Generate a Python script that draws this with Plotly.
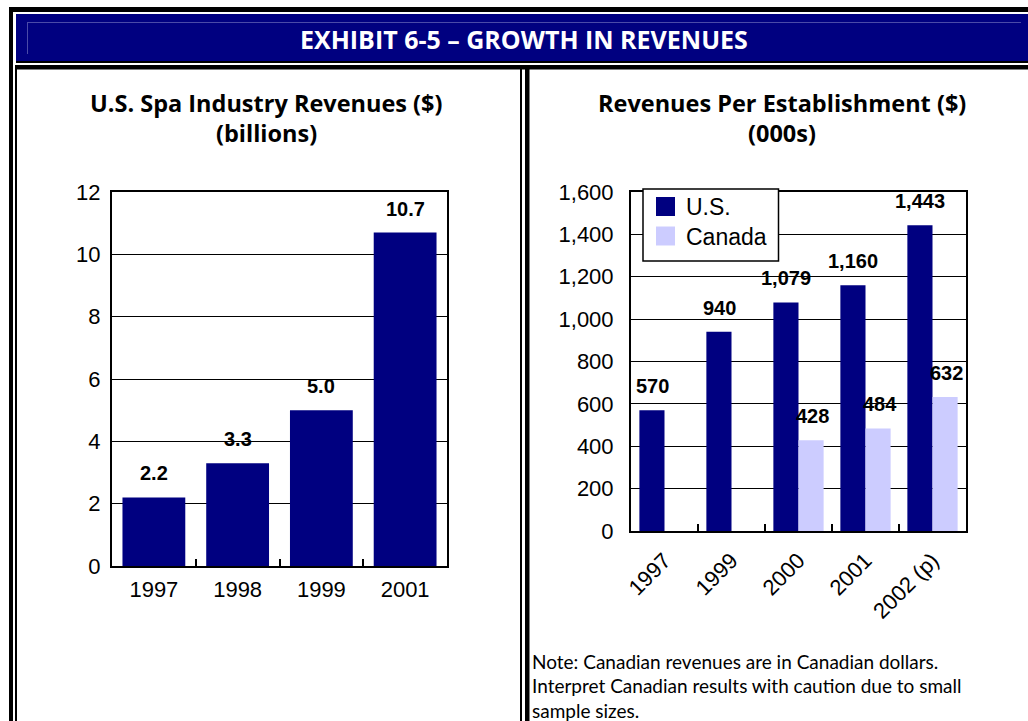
import plotly.graph_objects as go

# ---- data ----
spa_years = ["1997", "1998", "1999", "2001"]
spa_revenues = [2.2, 3.3, 5.0, 10.7]          # US$ billions

est_years = ["1997", "1999", "2000", "2001", "2002 (p)"]
est_us = [570, 940, 1079, 1160, 1443]          # US$ 000s
est_canada = [None, None, 428, 484, 632]       # C$ 000s
series_names = ["U.S.", "Canada"]

header_text = "EXHIBIT 6-5 – GROWTH IN REVENUES"
left_title = ["U.S. Spa Industry Revenues ($)", "(billions)"]
right_title = ["Revenues Per Establishment ($)", "(000s)"]
note_lines = [
    "Note: Canadian revenues are in Canadian dollars.",
    "Interpret Canadian results with caution due to small",
    "sample sizes.",
]

# ---- styling ----
W, H = 1028, 721
NAVY = "#000080"
LAVENDER = "#CCCCFF"
SANS = "Liberation Sans, Arial, sans-serif"
TITLE_FONT = "Open Sans, Noto Sans, sans-serif"
NOTE_FONT = "Lato, Noto Sans, sans-serif"


def px(x):
    return x / W


def py(y):
    return 1 - y / H


fig = go.Figure()

fig.add_trace(go.Bar(x=spa_years, y=spa_revenues, marker=dict(color=NAVY, line=dict(width=0)),
                     xaxis="x", yaxis="y", showlegend=False))
fig.add_trace(go.Bar(x=est_years, y=est_us, name=series_names[0],
                     marker=dict(color=NAVY, line=dict(width=0)),
                     xaxis="x2", yaxis="y2", showlegend=False))
fig.add_trace(go.Bar(x=est_years, y=est_canada, name=series_names[1],
                     marker=dict(color=LAVENDER, line=dict(width=0)),
                     xaxis="x2", yaxis="y2", showlegend=False))

axis_common = dict(showline=True, linecolor="black", linewidth=2, mirror=True,
                   automargin=False,
                   tickfont=dict(family=SANS, size=22, color="black"))

fig.update_layout(
    width=W, height=H,
    margin=dict(l=0, r=0, t=0, b=0, pad=0, autoexpand=False),
    showlegend=False,
    paper_bgcolor="white", plot_bgcolor="white",
    barmode="group", bargap=0.25, bargroupgap=0,
    xaxis=dict(domain=[px(112), px(447)], anchor="y", type="category",
               range=[-0.5, len(spa_years) - 0.5],
               ticks="inside", tickson="boundaries", ticklen=7, tickwidth=1.5,
               tickcolor="black", showgrid=False, tickangle=0,
               ticklabelstandoff=3, **axis_common),
    yaxis=dict(domain=[py(566), py(192)], anchor="x", range=[0, 12], dtick=2,
               showgrid=True, gridcolor="black", gridwidth=1.3, zeroline=False,
               ticks="", ticklabelstandoff=5, **axis_common),
    xaxis2=dict(domain=[px(631), px(966)], anchor="y2", type="category",
                range=[-0.5, len(est_years) - 0.5],
                ticks="inside", tickson="boundaries", ticklen=7, tickwidth=1.5,
                tickcolor="black", showgrid=False, tickangle=-45,
                ticklabelstandoff=6, **axis_common),
    yaxis2=dict(domain=[py(531), py(192)], anchor="x2", range=[0, 1600], dtick=200,
                tickformat=",d", showgrid=True, gridcolor="black", gridwidth=1.3,
                zeroline=False, ticks="", ticklabelstandoff=11, **axis_common),
)

shapes = []


def rect(x0, y0, x1, y1, color, layer="above"):
    shapes.append(dict(type="rect", xref="paper", yref="paper",
                       x0=px(x0), x1=px(x1), y0=py(y1), y1=py(y0),
                       fillcolor=color, line=dict(width=0), layer=layer))


# outer double frame and header bar
rect(9, 7, W, 12, "black")
rect(9, 7, 13, H, "black")
rect(16, 14, W, 61, NAVY)
shapes.append(dict(type="line", xref="paper", yref="paper", x0=px(27), x1=px(1021),
                   y0=py(22.5), y1=py(22.5), line=dict(color="#4a4aa8", width=1)))
shapes.append(dict(type="line", xref="paper", yref="paper", x0=px(27.5), x1=px(27.5),
                   y0=py(22), y1=py(54), line=dict(color="#4a4aa8", width=1)))
rect(16, 61, W, 63, "black")
rect(15, 65, W, 69.5, "black")
rect(15, 65, 17, H, "black")
# double divider between the two panels
rect(520, 65, 522, H, "black")
rect(525, 65, 529.5, H, "black")

# legend box for the right-hand chart
legend_colors = [NAVY, LAVENDER]
shapes.append(dict(type="rect", xref="paper", yref="paper",
                   x0=px(643), x1=px(778.5), y0=py(261), y1=py(189),
                   fillcolor="white", line=dict(color="black", width=1.5), layer="above"))
for i, c in enumerate(legend_colors):
    top = 197 + i * 29.5
    rect(656, top, 675, top + 19, c)

annotations = []

annotations.append(dict(xref="paper", yref="paper", x=px(524), y=py(39),
                        text=header_text, showarrow=False, xanchor="center", yanchor="middle",
                        font=dict(family=TITLE_FONT, size=25, color="white", weight="bold")))

for i, line in enumerate(left_title):
    annotations.append(dict(xref="paper", yref="paper", x=px(266), y=py(103 + 30 * i),
                            text=line, showarrow=False, xanchor="center", yanchor="middle",
                            font=dict(family=TITLE_FONT, size=23.5, color="black", weight="bold")))
for i, line in enumerate(right_title):
    annotations.append(dict(xref="paper", yref="paper", x=px(782), y=py(103 + 30 * i),
                            text=line, showarrow=False, xanchor="center", yanchor="middle",
                            font=dict(family=TITLE_FONT, size=23.5, color="black", weight="bold")))

for i, name in enumerate(series_names):
    annotations.append(dict(xref="paper", yref="paper", x=px(684), y=py(207 + 29.5 * i),
                            text=name, showarrow=False, xanchor="left", yanchor="middle",
                            font=dict(family=SANS, size=23, color="black")))

# note below the right-hand chart, one annotation per line
for i, line in enumerate(note_lines):
    annotations.append(dict(xref="paper", yref="paper", x=px(531), y=py(661 + 24.5 * i),
                            text=line, showarrow=False, xanchor="left", yanchor="middle",
                            borderpad=0, font=dict(family=NOTE_FONT, size=19, color="black")))

label_font = dict(family=SANS, size=20, color="black", weight="bold")

# value labels (category index positions on the category axes)
for i, v in enumerate(spa_revenues):
    annotations.append(dict(xref="x", yref="y", x=i, y=v, text=f"{v:.1f}",
                            showarrow=False, yanchor="middle", yshift=24, font=label_font))
for i, v in enumerate(est_us):
    annotations.append(dict(xref="x2", yref="y2", x=i, y=v, text=f"{v:,d}",
                            showarrow=False, yanchor="middle", yshift=24, xshift=-12.5,
                            font=label_font))
for i, v in enumerate(est_canada):
    if v is None:
        continue
    annotations.append(dict(xref="x2", yref="y2", x=i, y=v, text=f"{v:,d}",
                            showarrow=False, yanchor="middle", yshift=24, xshift=14,
                            font=label_font))

fig.update_layout(shapes=shapes, annotations=annotations)

fig.write_html("out.html")
